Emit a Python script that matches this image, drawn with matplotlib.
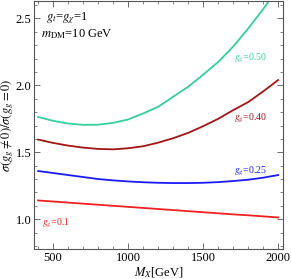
import matplotlib
matplotlib.use('Agg')
import matplotlib.pyplot as plt
from matplotlib.ticker import MultipleLocator

plt.rcParams['font.family'] = ['Liberation Serif', 'DejaVu Serif']
plt.rcParams['mathtext.fontset'] = 'stix'

# masses in GeV
mx = [400, 500, 600, 700, 800, 900, 1000, 1100, 1200,
      1300, 1400, 1500, 1600, 1700, 1800, 1900, 2000]

r_010 = [1.140, 1.132, 1.124, 1.116, 1.108, 1.100, 1.092, 1.084, 1.076,
         1.068, 1.060, 1.052, 1.044, 1.036, 1.029, 1.021, 1.013]
r_025 = [1.360, 1.345, 1.330, 1.315, 1.300, 1.290, 1.282, 1.276, 1.272,
         1.270, 1.270, 1.272, 1.277, 1.285, 1.295, 1.310, 1.330]
r_040 = [1.595, 1.570, 1.550, 1.535, 1.525, 1.522, 1.530, 1.545, 1.572,
         1.605, 1.645, 1.695, 1.750, 1.815, 1.875, 1.955, 2.040]
r_050 = [1.764, 1.735, 1.715, 1.705, 1.706, 1.720, 1.745, 1.790, 1.840,
         1.915, 1.990, 2.080, 2.175, 2.290, 2.425, 2.570, 2.730]

c_010 = '#f02020'
c_025 = '#1a1aff'
c_040 = '#a31515'
c_050 = '#33d19c'

fig = plt.figure(figsize=(2.91, 2.79), dpi=100)
ax = fig.add_axes([0.117, 0.107, 0.856, 0.891])

ax.plot(mx, r_050, color=c_050, lw=1.3)
ax.plot(mx, r_040, color=c_040, lw=1.3)
ax.plot(mx, r_025, color=c_025, lw=1.3)
ax.plot(mx, r_010, color=c_010, lw=1.3)

ax.text(1707, 2.2, r'$g_g$=0.50', color=c_050, fontsize=7, va='center')
ax.text(1707, 1.756, r'$g_g$=0.40', color=c_040, fontsize=7, va='center')
ax.text(1707, 1.355, r'$g_g$=0.25', color=c_025, fontsize=7, va='center')
ax.text(428, 0.965, r'$g_g$=0.1', color=c_010, fontsize=7, va='center')

ax.text(455, 2.5, r'$g_t$=$g_\chi$=1', fontsize=9, va='center')
ax.text(420, 2.385, r'$m_{\rm DM}$=10 GeV', fontsize=9, va='center')

ax.set_xlim(373, 2033)
ax.set_ylim(0.776, 2.634)
ax.xaxis.set_major_locator(MultipleLocator(500))
ax.xaxis.set_minor_locator(MultipleLocator(100))
ax.yaxis.set_major_locator(MultipleLocator(0.5))
ax.yaxis.set_minor_locator(MultipleLocator(0.1))
ax.tick_params(which='both', direction='in', top=True, right=True,
               labelsize=9, color='#555555', pad=2)
ax.tick_params(which='major', length=4, width=0.6)
ax.tick_params(which='minor', length=2, width=0.5)
for s in ax.spines.values():
    s.set_color('#555555')
    s.set_linewidth(0.8)

ax.set_xlabel(r'$M_X$[GeV]', fontsize=9, labelpad=1)
ax.set_ylabel(r'$\sigma(g_g\neq0)/\sigma(g_g=0)$', fontsize=9, labelpad=0)

fig.savefig('out.png', dpi=100)
